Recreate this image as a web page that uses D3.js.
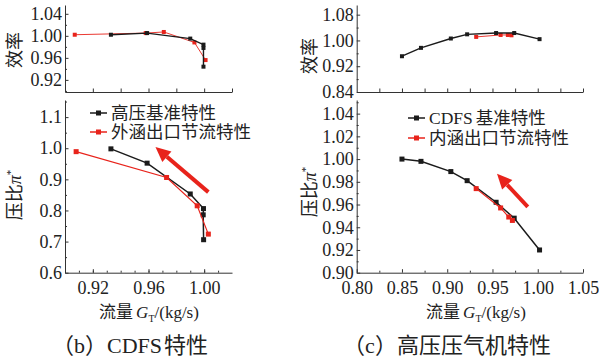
<!DOCTYPE html>
<html>
<head>
<meta charset="utf-8">
<script src="https://cdn.jsdelivr.net/npm/d3@7"></script>
<style>
body { margin: 0; background: #fff; }
</style>
</head>
<body>
<div id="chart"></div>
<script>
// ---- (b) CDFS characteristics ----
let bEffBaseX = [0.933, 0.959, 0.990, 0.9995, 0.9995, 0.9995];
let bEffBaseY = [1.002, 1.005, 0.995, 0.984, 0.978, 0.944];
let bEffThrX  = [0.907, 0.958, 0.971, 0.993, 1.001];
let bEffThrY  = [1.002, 1.005, 1.007, 0.988, 0.956];
let bPrBaseX  = [0.933, 0.959, 0.990, 0.9995, 0.9993, 0.9996];
let bPrBaseY  = [0.998, 0.952, 0.853, 0.806, 0.786, 0.706];
let bPrThrX   = [0.908, 0.973, 0.995, 1.003];
let bPrThrY   = [0.989, 0.906, 0.815, 0.724];
let bLegend   = ["高压基准特性", "外涵出口节流特性"];
let bArrow    = [[1.003, 0.859], [0.965, 1.004]];

// ---- (c) HP compressor characteristics ----
let cEffBaseX = [0.850, 0.871, 0.904, 0.922, 0.954, 0.974, 1.002];
let cEffBaseY = [0.951, 0.977, 1.006, 1.019, 1.023, 1.023, 1.004];
let cEffThrX  = [0.932, 0.959, 0.967, 0.971];
let cEffThrY  = [1.011, 1.017, 1.017, 1.016];
let cPrBaseX  = [0.850, 0.871, 0.904, 0.922, 0.954, 0.974, 1.002];
let cPrBaseY  = [1.000, 0.998, 0.989, 0.981, 0.962, 0.948, 0.920];
let cPrThrX   = [0.932, 0.959, 0.968, 0.972];
let cPrThrY   = [0.974, 0.957, 0.949, 0.946];
let cLegend   = ["CDFS基准特性", "内涵出口节流特性"];
let cArrow    = [[0.989, 0.958], [0.955, 0.987]];

let BLACK = "#1b1b1b", RED = "#e8231b";
let SERIF = "Liberation Serif";
let CJK = "Noto Sans CJK SC";

let svg = d3.select("#chart").append("svg")
    .attr("width", 599)
    .attr("height", 362)
    .attr("font-family", SERIF);

function zip(xs, ys) { return xs.map(function(x, i) { return [x, ys[i]]; }); }

//Draws an axis with inward ticks plus unlabeled minor ticks
function drawAxis(g, axisFn, scale, major, minor, fmt, pad) {
    g.append("g").call(axisFn(scale).tickValues(minor).tickSize(-2).tickSizeOuter(0).tickFormat(""))
        .selectAll(".domain").remove();
    let a = g.append("g").call(axisFn(scale).tickValues(major).tickSize(-3.5).tickSizeOuter(0)
        .tickPadding(pad).tickFormat(fmt));
    a.attr("font-size", 18).attr("font-family", SERIF);
    a.selectAll("text").attr("fill", "#222").attr("font-family", SERIF);
    g.selectAll("line, path").attr("stroke", "#333");
}

function drawSeries(g, pts, x, y, color, lw, ms) {
    g.append("path")
        .datum(pts)
        .attr("fill", "none")
        .attr("stroke", color)
        .attr("stroke-width", lw)
        .attr("d", d3.line().x(function(d) { return x(d[0]); }).y(function(d) { return y(d[1]); }));
    g.selectAll(null).data(pts).enter().append("rect")
        .attr("x", function(d) { return x(d[0]) - ms / 2; })
        .attr("y", function(d) { return y(d[1]) - ms / 2; })
        .attr("width", ms).attr("height", ms)
        .attr("fill", color);
}

function drawArrow(g, arr, x, y) {
    let x1 = x(arr[0][0]), y1 = y(arr[0][1]), x2 = x(arr[1][0]), y2 = y(arr[1][1]);
    let ang = Math.atan2(y2 - y1, x2 - x1);
    let hl = 15, hw = 7;
    let bx = x2 - hl * Math.cos(ang), by = y2 - hl * Math.sin(ang);
    g.append("line")
        .attr("x1", x1).attr("y1", y1).attr("x2", bx).attr("y2", by)
        .attr("stroke", RED).attr("stroke-width", 4);
    let px = -Math.sin(ang) * hw, py = Math.cos(ang) * hw;
    g.append("path")
        .attr("d", "M" + x2 + "," + y2 + "L" + (bx + px) + "," + (by + py) + "L" + (bx - px) + "," + (by - py) + "Z")
        .attr("fill", RED);
}

function drawLegend(g, labels, lx, ly, gap) {
    [BLACK, RED].forEach(function(c, i) {
        let yy = ly + i * gap;
        g.append("line").attr("x1", lx).attr("x2", lx + 17).attr("y1", yy).attr("y2", yy)
            .attr("stroke", c).attr("stroke-width", 1.5);
        g.append("rect").attr("x", lx + 6).attr("y", yy - 2.5).attr("width", 5).attr("height", 5).attr("fill", c);
        let t = g.append("text").attr("x", lx + 21).attr("y", yy + 6).attr("font-size", 17.5).attr("fill", "#222");
        let m = labels[i].match(/^([A-Za-z]*)(.*)$/);
        if (m[1]) t.append("tspan").attr("font-family", SERIF).text(m[1]);
        t.append("tspan").attr("font-family", CJK).attr("dx", m[1] ? 3 : 0).text(m[2]);
    });
}

function yLabel(g, cx, cy, kind) {
    let t = g.append("text")
        .attr("transform", "translate(" + cx + "," + cy + ") rotate(-90)")
        .attr("text-anchor", "middle")
        .attr("dy", "0.35em")
        .attr("fill", "#222")
        .attr("font-size", 18);
    if (kind === "eff") {
        t.append("tspan").attr("font-family", CJK).text("效率");
    } else {
        t.append("tspan").attr("font-family", CJK).text("压比");
        t.append("tspan").attr("font-family", SERIF).attr("font-style", "italic").text("π");
        t.append("tspan").attr("font-family", SERIF).attr("font-size", 11).attr("dy", "-0.7em").text("*");
    }
}

function xLabel(g, cx, by) {
    let t = g.append("text").attr("x", cx).attr("y", by).attr("text-anchor", "middle")
        .attr("font-size", 17).attr("fill", "#222");
    t.append("tspan").attr("font-family", CJK).text("流量");
    t.append("tspan").attr("font-family", SERIF).attr("font-style", "italic").attr("dx", 3).text("G");
    t.append("tspan").attr("font-family", SERIF).attr("font-size", 10).attr("dy", 4).text("T");
    t.append("tspan").attr("font-family", SERIF).attr("dy", -4).text("/(kg/s)");
}

function caption(g, cx, by, letter, title) {
    let t = g.append("text").attr("x", cx).attr("y", by).attr("text-anchor", "middle")
        .attr("font-size", 22).attr("fill", "#222");
    t.append("tspan").attr("font-family", CJK).text("（");
    t.append("tspan").attr("font-family", SERIF).text(letter);
    t.append("tspan").attr("font-family", CJK).text("）");
    let m = title.match(/^([A-Za-z]*)(.*)$/);
    if (m[1]) t.append("tspan").attr("font-family", SERIF).text(m[1]);
    t.append("tspan").attr("font-family", CJK).attr("dx", m[1] ? 2 : 0).text(m[2]);
}

function panel(o) {
    let g = svg.append("g");
    let x = d3.scaleLinear().domain(o.xDomain).range(o.xRange);
    let yE = d3.scaleLinear().domain(o.effDomain).range([92, 5]);
    let yP = d3.scaleLinear().domain(o.prDomain).range([272.7, 100]);

    //efficiency subplot
    let gE = g.append("g").attr("transform", "translate(0,92)");
    drawAxis(gE, d3.axisBottom, x, o.effXTicks, o.effXMinor, "", 3);
    let gEy = g.append("g").attr("transform", "translate(" + o.xRange[0] + ",0)");
    drawAxis(gEy, d3.axisLeft, yE, o.effTicks, o.effMinor, d3.format(".2f"), 3);
    drawSeries(g, zip(o.effThrX, o.effThrY), x, yE, RED, 0.9, 4);
    drawSeries(g, zip(o.effBaseX, o.effBaseY), x, yE, BLACK, 1.4, 4);

    //pressure ratio subplot
    let gP = g.append("g").attr("transform", "translate(0,272.7)");
    drawAxis(gP, d3.axisBottom, x, o.xTicks, o.xMinor, d3.format(".2f"), 9);
    let gPy = g.append("g").attr("transform", "translate(" + o.xRange[0] + ",0)");
    drawAxis(gPy, d3.axisLeft, yP, o.prTicks, o.prMinor, d3.format(o.prFmt), 3);
    drawSeries(g, zip(o.prBaseX, o.prBaseY), x, yP, BLACK, 1.5, 5);
    drawSeries(g, zip(o.prThrX, o.prThrY), x, yP, RED, 1.2, 5);

    drawArrow(g, o.arrow, x, yP);
    drawLegend(g, o.legend, o.legX, o.legY, o.legGap);
    yLabel(g, o.yLabX, o.effLabY, "eff");
    yLabel(g, o.yLabX, o.prLabY, "pr");
    xLabel(g, o.xLabX, 318);
    caption(g, o.capX, 353, o.letter, o.title);
}

panel({
    xDomain: [0.90, 1.02], xRange: [65, 232],
    effDomain: [0.898, 1.056], prDomain: [0.6, 1.155],
    effXTicks: d3.range(0.92, 1.021, 0.02), effXMinor: [],
    xTicks: [0.92, 0.96, 1.00], xMinor: d3.range(0.91, 1.02, 0.01),
    effTicks: [0.92, 0.96, 1.00, 1.04], effMinor: [0.90, 0.94, 0.98, 1.02],
    prTicks: [0.6, 0.7, 0.8, 0.9, 1.0, 1.1], prMinor: [0.65, 0.75, 0.85, 0.95, 1.05, 1.15], prFmt: ".1f",
    effBaseX: bEffBaseX, effBaseY: bEffBaseY, effThrX: bEffThrX, effThrY: bEffThrY,
    prBaseX: bPrBaseX, prBaseY: bPrBaseY, prThrX: bPrThrX, prThrY: bPrThrY,
    arrow: bArrow, legend: bLegend, legX: 90, legY: 113, legGap: 19,
    yLabX: 15, effLabY: 50, prLabY: 195, xLabX: 149, capX: 130,
    letter: "b", title: "CDFS特性"
});

panel({
    xDomain: [0.80, 1.05], xRange: [356.7, 583],
    effDomain: [0.84, 1.11], prDomain: [0.90, 1.052],
    effXTicks: d3.range(0.825, 1.051, 0.025), effXMinor: [],
    xTicks: [0.80, 0.85, 0.90, 0.95, 1.00, 1.05], xMinor: d3.range(0.825, 1.05, 0.05),
    effTicks: [0.84, 0.92, 1.00, 1.08], effMinor: [0.88, 0.96, 1.04],
    prTicks: d3.range(0.90, 1.041, 0.02), prMinor: d3.range(0.91, 1.05, 0.02), prFmt: ".2f",
    effBaseX: cEffBaseX, effBaseY: cEffBaseY, effThrX: cEffThrX, effThrY: cEffThrY,
    prBaseX: cPrBaseX, prBaseY: cPrBaseY, prThrX: cPrThrX, prThrY: cPrThrY,
    arrow: cArrow, legend: cLegend, legX: 408, legY: 118, legGap: 20,
    yLabX: 310, effLabY: 56, prLabY: 192, xLabX: 476, capX: 447,
    letter: "c", title: "高压压气机特性"
});
</script>
</body>
</html>
